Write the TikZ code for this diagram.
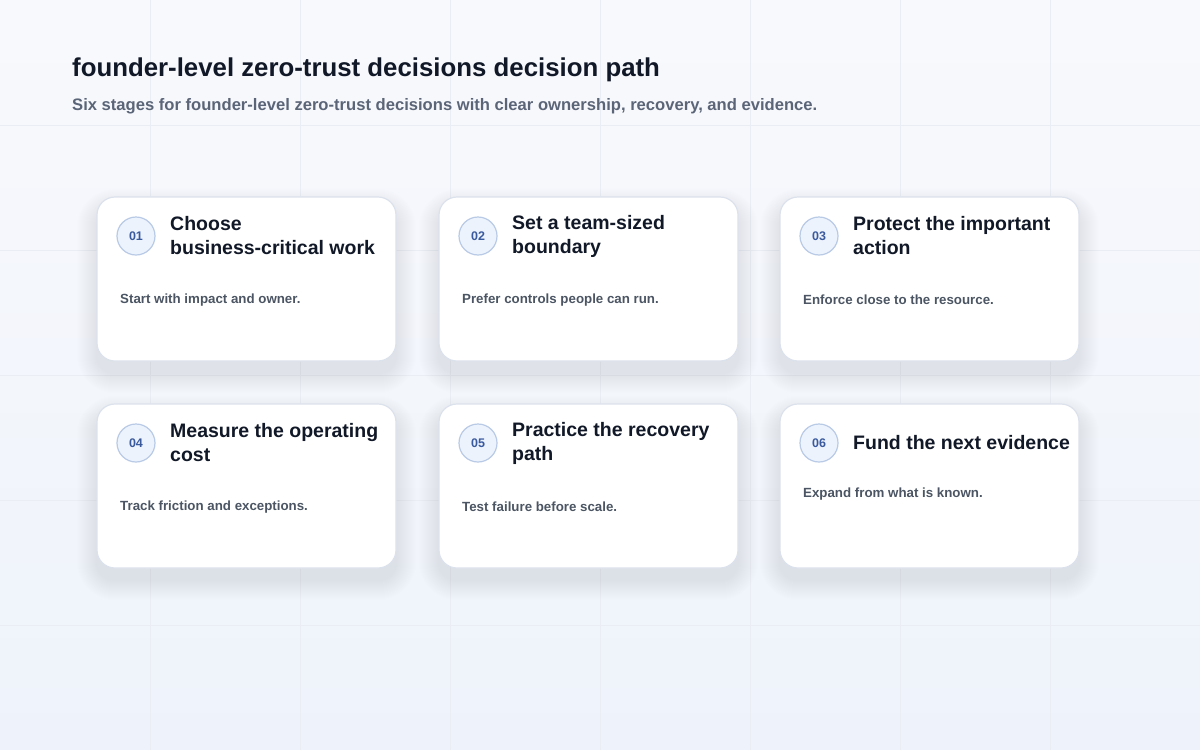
\documentclass[tikz,border=0pt]{standalone}
\usepackage{fontspec}
\setmainfont{Liberation Sans}
\definecolor{bgA}{HTML}{F8F9FC}
\definecolor{bgB}{HTML}{EEF3FB}
\definecolor{gridc}{HTML}{EAEEF4}
\definecolor{cardborder}{HTML}{DCE2EC}
\definecolor{titlec}{HTML}{111827}
\definecolor{subc}{HTML}{5B6578}
\definecolor{descc}{HTML}{4B5563}
\definecolor{numc}{HTML}{3A5A9E}
\definecolor{circfill}{HTML}{EDF3FD}
\definecolor{circborder}{HTML}{B8CAE6}
\definecolor{shadowc}{HTML}{9AA6C6}
\tikzset{
  cardbox/.style={draw=cardborder, line width=1.2pt, fill=white, rounded corners=18pt,
    minimum width=299pt, minimum height=164pt, inner sep=0pt},
  numcirc/.style={circle, draw=circborder, line width=1.2pt, fill=circfill, minimum size=38pt,
    inner sep=0pt, text=numc, font=\fontsize{12.5}{13}\selectfont\bfseries},
  cardtitle/.style={anchor=west, align=left, inner sep=0pt, text=titlec,
    font=\fontsize{19.5}{24}\selectfont\bfseries},
  carddesc/.style={anchor=west, inner sep=0pt, text=descc,
    font=\fontsize{13.3}{16}\selectfont\bfseries},
}
\newcommand{\stagecard}[7]{%
  % #1 name, #2 cx, #3 cy (card center), #4 number, #5 title, #6 desc, #7 desc y offset
  \foreach \k in {1,...,20}{
    \fill[shadowc, opacity=0.009, rounded corners=18pt+\k pt]
      ({#2-149.5-\k},{#3-82-\k+12}) rectangle ({#2+149.5+\k},{#3+82+\k+12});
  }
  \node[cardbox] (#1) at (#2,#3) {};
  \node[numcirc] (#1n) at ({#2-110.5},{#3-43}) {#4};
  \node[cardtitle] (#1t) at ({#2-76.5},{#3-43}) {#5};
  \node[carddesc] (#1d) at ({#2-126.5},{#3+#7}) {#6};
}
\begin{document}
\begin{tikzpicture}[x=1pt,y=-1pt]
\useasboundingbox (0,0) rectangle (1200,750);
\shade[top color=bgA, bottom color=bgB] (0,0) rectangle (1200,750);
\foreach \gx in {150,300,...,1050} \draw[gridc, line width=0.8pt] (\gx,0) -- (\gx,750);
\foreach \gy in {125,250,...,625} \draw[gridc, line width=0.8pt] (0,\gy) -- (1200,\gy);
\node[anchor=west, inner sep=0pt, text=titlec, font=\fontsize{25.8}{30}\selectfont\bfseries] (heading) at (72,70) {founder-level zero-trust decisions decision path};
\node[anchor=west, inner sep=0pt, text=subc, font=\fontsize{16.6}{20}\selectfont\bfseries] (subheading) at (72,106) {Six stages for founder-level zero-trust decisions with clear ownership, recovery, and evidence.};
\stagecard{c1}{246.5}{279}{01}{Choose\\business-critical work}{Start with impact and owner.}{21}
\stagecard{c2}{588.5}{279}{02}{Set a team-sized\\boundary}{Prefer controls people can run.}{21}
\stagecard{c3}{929.5}{279}{03}{Protect the important\\action}{Enforce close to the resource.}{21}
\stagecard{c4}{246.5}{486}{04}{Measure the operating\\cost}{Track friction and exceptions.}{21}
\stagecard{c5}{588.5}{486}{05}{Practice the recovery\\path}{Test failure before scale.}{21}
\stagecard{c6}{929.5}{486}{06}{Fund the next evidence}{Expand from what is known.}{8}
\end{tikzpicture}
\end{document}
